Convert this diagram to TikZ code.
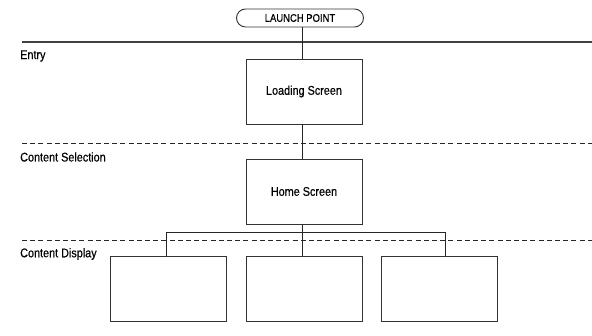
\documentclass[tikz,border=0pt]{standalone}
\usepackage{fontspec}
\setmainfont{Liberation Sans}[FakeStretch=0.86, FakeBold=0.4]
\begin{document}
\begin{tikzpicture}[x=1pt,y=-1pt,
  screen/.style={draw=black!80, line width=0.9pt, minimum width=116pt, minimum height=65pt, inner sep=0pt, font=\fontsize{12.6}{14}\selectfont},
  pill/.style={draw=black!80, line width=0.9pt, rounded corners=9pt, minimum width=127pt, minimum height=18pt, inner sep=0pt, font=\fontsize{11}{13}\selectfont},
  lanelabel/.style={anchor=west, inner sep=0pt, font=\fontsize{12.6}{14}\selectfont},
  link/.style={draw=black!85, line width=0.9pt},
  solidrule/.style={draw=black!75, line width=1.1pt},
  dashrule/.style={draw=black!85, line width=0.9pt, dash pattern=on 5pt off 3.2pt}]
\useasboundingbox (0,0) rectangle (592,336);

% swim-lane separators
\coordinate (r0a) at (22,42);  \coordinate (r0b) at (592,42);
\coordinate (r1a) at (22,143); \coordinate (r1b) at (592,143);
\coordinate (r2a) at (22,240); \coordinate (r2b) at (592,240);
\draw[solidrule] (r0a) -- (r0b);
\draw[dashrule] (r1a) -- (r1b);
\draw[dashrule] (r2a) -- (r2b);

% lane titles
\node[lanelabel] (lEntry) at (20,56) {Entry};
\node[lanelabel] (lSel) at (20,157) {Content Selection};
\node[lanelabel] (lDisp) at (20,254) {Content Display};

% screens
\node[pill] (launch) at (300,18) {LAUNCH POINT};
\node[screen] (loading) at (304,91.5) {Loading Screen};
\node[screen] (home) at (304,191.5) {Home Screen};
\node[screen] (d1) at (168,289) {};
\node[screen] (d2) at (304,289) {};
\node[screen] (d3) at (439.5,289) {};

% flow
\coordinate (trunk) at (302,0);
\coordinate (b1) at (166,232);
\coordinate (b2) at (302,232);
\coordinate (b3) at (445,232);
\draw[link] (trunk |- launch.south) -- (trunk |- loading.north);
\draw[link] (trunk |- loading.south) -- (trunk |- home.north);
\draw[link] (trunk |- home.south) -- (b2);
\draw[link] (b1 |- d1.north) -- (b1) -- (b3) -- (b3 |- d3.north);
\draw[link] (b2) -- (b2 |- d2.north);
\end{tikzpicture}
\end{document}
